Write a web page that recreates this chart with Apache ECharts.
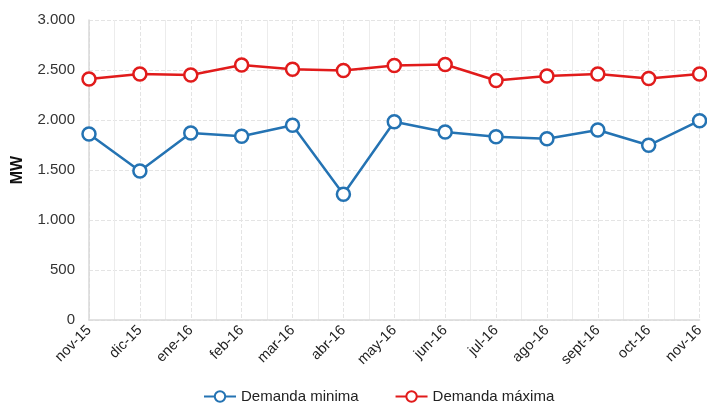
<!DOCTYPE html>
<html>
<head>
<meta charset="utf-8">
<script src="https://cdn.jsdelivr.net/npm/echarts@6/dist/echarts.min.js"></script>
<style>
  html, body { margin: 0; padding: 0; background: #fff; }
  #chart { width: 707px; height: 408px; }
</style>
</head>
<body>
<div id="chart"></div>
<script>
// Monthly demand (MW)
const months = ['nov-15', 'dic-15', 'ene-16', 'feb-16', 'mar-16', 'abr-16', 'may-16',
                'jun-16', 'jul-16', 'ago-16', 'sept-16', 'oct-16', 'nov-16'];
const demandaMinima = [1860, 1490, 1870, 1837, 1947, 1257, 1983, 1880, 1833, 1813, 1900, 1747, 1993];
const demandaMaxima = [2410, 2460, 2450, 2550, 2507, 2495, 2545, 2555, 2395, 2440, 2460, 2415, 2460];
const yTicks = [0, 500, 1000, 1500, 2000, 2500, 3000];

const fmtThousands = v => String(v).replace(/\B(?=(\d{3})+(?!\d))/g, '.');
const pairs = arr => arr.map((v, i) => [i, v]);

const chart = echarts.init(document.getElementById('chart'), null, { renderer: 'canvas' });

function lineSeries(name, data, color) {
  return {
    name: name,
    type: 'line',
    data: pairs(data),
    symbol: 'circle',
    symbolSize: 13,
    showSymbol: true,
    lineStyle: { color: color, width: 2.5 },
    itemStyle: { color: '#ffffff', borderColor: color, borderWidth: 2.5 },
    emphasis: { disabled: true },
    animation: false
  };
}

chart.setOption({
  backgroundColor: '#ffffff',
  textStyle: { fontFamily: 'Liberation Sans, Arial, sans-serif' },
  grid: { left: 89, right: 4, top: 20, bottom: 88, containLabel: false },
  legend: {
    bottom: -1,
    left: 198,
    itemWidth: 32,
    itemHeight: 13,
    itemGap: 36,
    textStyle: { fontSize: 15, color: '#222' },
    data: ['Demanda minima', 'Demanda máxima']
  },
  xAxis: {
    type: 'value',
    min: 0,
    max: 12,
    interval: 1,
    axisLine: { show: true, lineStyle: { color: '#d9d9d9', width: 1.5 } },
    axisTick: { show: false },
    axisLabel: {
      rotate: 45,
      fontSize: 14.5,
      color: '#222',
      margin: 8,
      showMinLabel: true,
      showMaxLabel: true,
      formatter: v => months[v] || ''
    },
    splitLine: { show: true, lineStyle: { color: '#e4e4e4', type: 'dashed' } },
    minorTick: { show: false, splitNumber: 2 },
    minorSplitLine: { show: true, lineStyle: { color: '#ececec', type: 'solid' } }
  },
  yAxis: {
    type: 'value',
    min: 0,
    max: 3000,
    interval: 500,
    name: 'MW',
    nameLocation: 'middle',
    nameRotate: 90,
    nameGap: 63,
    nameTextStyle: { fontSize: 16, fontWeight: 'bold', color: '#111' },
    axisLine: { show: true, lineStyle: { color: '#d9d9d9', width: 1.5 } },
    axisTick: { show: false },
    axisLabel: {
      fontSize: 15,
      color: '#333',
      margin: 14,
      formatter: v => yTicks.includes(v) ? fmtThousands(v) : ''
    },
    splitLine: { show: true, lineStyle: { color: '#e4e4e4', type: 'dashed' } }
  },
  series: [
    lineSeries('Demanda minima', demandaMinima, '#2473b3'),
    lineSeries('Demanda máxima', demandaMaxima, '#e11b1b')
  ]
});
</script>
</body>
</html>
